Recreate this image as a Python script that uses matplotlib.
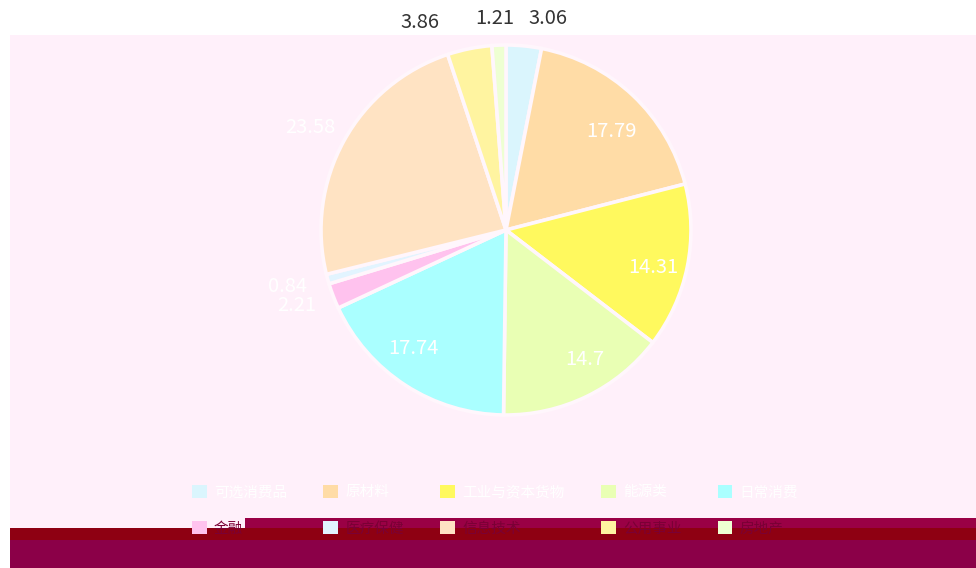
import matplotlib
matplotlib.use("Agg")
import matplotlib.pyplot as plt
from matplotlib.patches import Rectangle, Patch
import numpy as np

plt.rcParams['font.family'] = ['Noto Sans CJK SC', 'DejaVu Sans']

# ---- data ----
categories = ["可选消费品", "原材料", "工业与资本货物", "能源类", "日常消费",
              "金融", "医疗保健", "信息技术", "公用事业", "房地产"]
values = [3.06, 17.79, 14.31, 14.7, 17.74, 2.21, 0.84, 23.58, 3.86, 1.21]
value_labels = ["3.06", "17.79", "14.31", "14.7", "17.74", "2.21", "0.84", "23.58", "3.86", "1.21"]

# ---- style ----
colors = ["#DAF5FD", "#FFDCA6", "#FFF95E", "#E9FFB4", "#AAFFFF",
          "#FFC2EE", "#E2F4FF", "#FFE3C3", "#FFF4A0", "#EEFFD2"]
label_inside = [False, True, True, True, True, False, False, False, False, False]
label_color = ["#333333", "white", "white", "white", "white",
               "white", "white", "white", "#333333", "#333333"]
label_dx_px = [21, 4, 2, 14, -12, -11, -14, -10, -44, -3]
label_dy_px = [0, -9, -8, 4, 6, 0, 0, 0, 0, 0]

W, H = 976, 568
fig = plt.figure(figsize=(W / 100, H / 100), dpi=100, facecolor="white")

# background areas
bg = [
    ((10 / W, (H - 528) / H), (W - 10) / W, (528 - 35) / H, "#FFF0FA"),
    ((10 / W, 0), (W - 10) / W, (568 - 540) / H, "#8B0048"),
    ((10 / W, (H - 540) / H), (W - 10) / W, 12 / H, "#8E0012"),
    ((245 / W, (H - 528) / H), (W - 245) / W, 10 / H, "#9A0045"),
]
for xy, w_, h_, c in bg:
    fig.patches.append(Rectangle(xy, w_, h_, transform=fig.transFigure,
                                 facecolor=c, edgecolor="none", zorder=-5))

# pie axes: center (506,230) px from top-left, radius 185 px
R = 185.0
half = 250.0
cx, cy = 506.0, 230.0
ax = fig.add_axes([(cx - half) / W, (H - cy - half) / H, 2 * half / W, 2 * half / H])
ax.set_facecolor("none")
ax.set_zorder(2)

wedges, _ = ax.pie(values, colors=colors, startangle=90, counterclock=False, radius=1.0,
                   wedgeprops=dict(edgecolor="#FFF6FC", linewidth=2.6))
lim = half / R
ax.set_xlim(-lim, lim)
ax.set_ylim(-lim, lim)
ax.set_aspect("equal")
ax.axis("off")

for w, lab, inside, col, dx, dy in zip(wedges, value_labels, label_inside, label_color,
                                       label_dx_px, label_dy_px):
    th = np.deg2rad((w.theta1 + w.theta2) / 2)
    r = 0.80 if inside else 1.146
    x = r * np.cos(th) + dx / R
    y = r * np.sin(th) + dy / R
    ax.text(x, y, lab, ha="center", va="center", fontsize=14.5, color=col, clip_on=False)

# legend (row-major order: matplotlib fills columns first)
ncol, nrow = 5, 2
order = [r * ncol + c for c in range(ncol) for r in range(nrow)]
handles = [Patch(facecolor=colors[i], edgecolor="none") for i in order]
labels = [categories[i] for i in order]
leg = fig.legend(handles, labels, ncol=ncol, loc="upper left",
                 bbox_to_anchor=(189 / W, (H - 482) / H), frameon=False,
                 borderaxespad=0, borderpad=0.2,
                 fontsize=10.5, handlelength=1.0, handleheight=1.0, handletextpad=0.5,
                 columnspacing=2.5, labelspacing=1.5)
for i, t in zip(order, leg.get_texts()):
    t.set_color("white" if i < 5 else "#7A0035")
leg.set_zorder(5)

fig.savefig("out.png", dpi=100, facecolor=fig.get_facecolor())
